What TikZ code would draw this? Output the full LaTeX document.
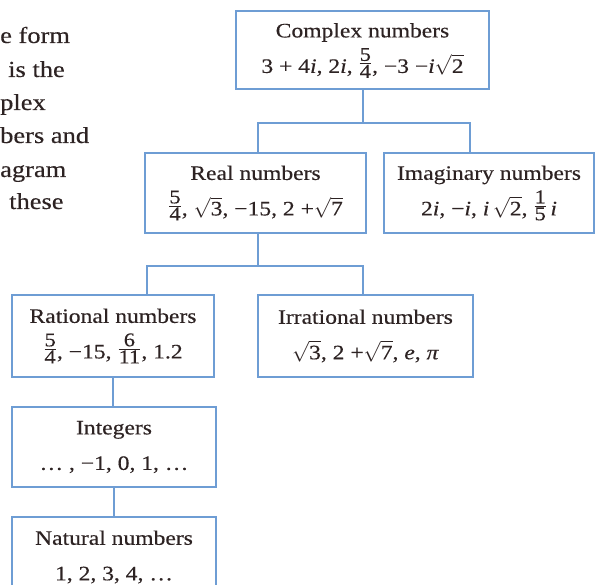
\RequirePackage{fix-cm}
\documentclass[tikz,border=0pt]{standalone}
\usepackage{fontspec}
\usepackage{amsmath}
\usepackage{amssymb}
\setmainfont{Liberation Serif}[FakeStretch=1.15,FakeBold=0.35]
\definecolor{boxblue}{RGB}{110,157,212}
\definecolor{inkgray}{RGB}{45,35,35}
\newcommand{\numfrac}[2]{\raisebox{4pt}{$\genfrac{}{}{}{1}{\mbox{\fontsize{19.5}{19.5}\selectfont #1}}{\mbox{\fontsize{19.5}{19.5}\selectfont #2}}$}}
\newcommand{\rt}[1]{$\sqrt{\mbox{#1}}$}
\newcommand{\vi}{\textit{i}}

\begin{document}
\begin{tikzpicture}[x=1pt,y=-1pt,
  numbox/.style={draw=boxblue, line width=2pt, align=center, text=inkgray,
    font=\fontsize{20.5}{35.5}\selectfont, inner sep=0pt},
  link/.style={draw=boxblue, line width=2pt},
  para/.style={anchor=base west, inner sep=0pt, text=inkgray, font=\fontsize{23}{28}\selectfont}]
\useasboundingbox (0,0) rectangle (596,585);
\clip (0,0) rectangle (596,585);
%left margin text, cut off
\path
(0,43) node[para] (p1) {e form}
(8,77) node[para] (p2) {is the}
(0,110) node[para] (p3) {plex}
(0,143) node[para] (p4) {bers and}
(0,177) node[para] (p5) {agram}
(9,209) node[para] (p6) {these};
%the number sets
\path
(362.5,50.5) node[numbox, minimum width=253, minimum height=78] (cplx)
  {Complex numbers\\ 3 + 4\vi, 2\vi, \numfrac{5}{4}, −3 −\vi\rt{2}}
(255.5,193) node[numbox, minimum width=221, minimum height=80] (real)
  {Real numbers\\ \numfrac{5}{4}, \rt{3}, −15, 2 +\rt{7}}
(489,193) node[numbox, minimum width=210, minimum height=80] (imag)
  {Imaginary numbers\\ 2\vi, −\vi, \vi\,\rt{2}, \numfrac{1}{5}\,\vi}
(113,336) node[numbox, minimum width=202, minimum height=82] (rat)
  {Rational numbers\\ \numfrac{5}{4}, −15,\ \numfrac{6}{11}, 1.2}
(365.5,336) node[numbox, minimum width=215, minimum height=82] (irr)
  {Irrational numbers\\ \rt{3}, 2 +\rt{7}, \textit{e}, \textit{π}}
(114,447) node[numbox, minimum width=204, minimum height=80] (intg)
  {Integers\\ … , −1, 0, 1, …}
(114,557) node[numbox, minimum width=204, minimum height=80] (nat)
  {Natural numbers\\ 1, 2, 3, 4, …};
%\draw[link] (cplx) -- (real);
\draw[link] (cplx.south) -- ++(0,33) coordinate (j1);
\draw[link] ([xshift=2.5]real.north) |- (j1) -| ([xshift=-19]imag.north);
\draw[link] ([xshift=2.5]real.south) -- ++(0,32) coordinate (j2);
\draw[link] ([xshift=34]rat.north) |- (j2) -| ([xshift=-2.5]irr.north);
\draw[link] (rat.south) -- (rat.south |- intg.north);
\draw[link] (intg.south) -- (intg.south |- nat.north);
\end{tikzpicture}
\end{document}
